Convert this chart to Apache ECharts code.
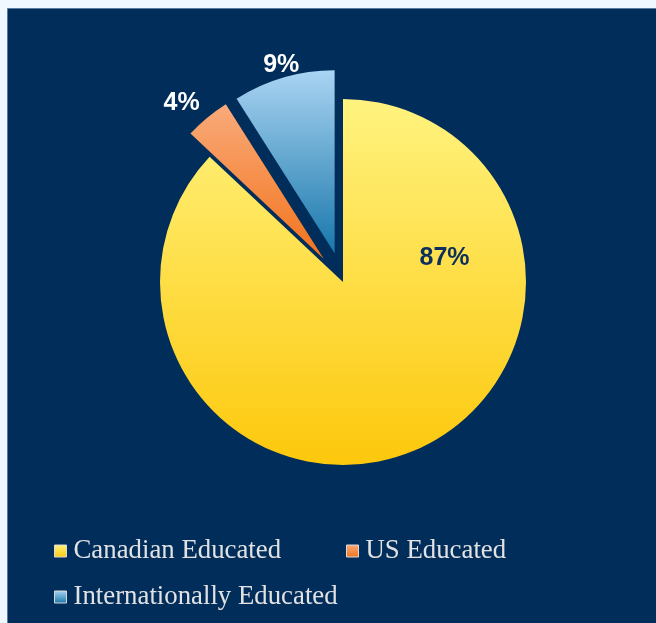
<!DOCTYPE html>
<html>
<head>
<meta charset="utf-8">
<script src="https://cdn.jsdelivr.net/npm/echarts@6/dist/echarts.min.js"></script>
<style>
html,body{margin:0;padding:0;background:#eff8fe;}
#chart{width:656px;height:623px;}
</style>
</head>
<body>
<div id="chart"></div>
<script>
// ---- data ----
const categories = ['Canadian Educated', 'US Educated', 'Internationally Educated'];
const shares = [87, 4, 9];
const exploded = [false, true, true];

// ---- styles ----
const gradientStops = [
  ['#fff37f', '#fdc80c'],
  ['#f9aa7a', '#f3731b'],
  ['#aad4f3', '#1877aa']
];
const labelColors = ['#0d2f5c', '#ffffff', '#ffffff'];
const labelShift = [[64, -111], [-82, -83], [-27, -97]];
const NAVY = '#012d5b';

function grad(c) {
  return new echarts.graphic.LinearGradient(0, 0, 0, 1, [
    { offset: 0, color: c[0] },
    { offset: 1, color: c[1] }
  ]);
}

const pieData = categories.map((name, i) => ({
  name: name,
  value: shares[i],
  selected: exploded[i],
  itemStyle: { color: grad(gradientStops[i]) },
  label: { color: labelColors[i] }
}));

const chart = echarts.init(document.getElementById('chart'), null, { renderer: 'canvas' });

const legendBase = {
  orient: 'horizontal',
  itemWidth: 12,
  itemHeight: 12,
  icon: 'rect',
  padding: 0,
  itemStyle: { borderColor: '#d9d9d9', borderWidth: 1 },
  textStyle: {
    color: '#e2e2e2',
    fontFamily: 'Liberation Serif',
    fontSize: 26.8,
    lineHeight: 30,
    padding: [0, 0, 0, 2]
  },
  selectedMode: false
};

chart.setOption({
  animation: false,
  backgroundColor: '#eff8fe',
  graphic: [{
    type: 'rect',
    left: 7, top: 8,
    shape: { width: 649, height: 615 },
    style: { fill: NAVY, stroke: '#5b7b9e', lineWidth: 1 },
    z: -10
  }],
  legend: [
    Object.assign({}, legendBase, { left: 54, top: 536, data: [categories[0]] }),
    Object.assign({}, legendBase, { left: 346, top: 536, data: [categories[1]] }),
    Object.assign({}, legendBase, { left: 54, top: 582, data: [categories[2]] })
  ],
  series: [{
    type: 'pie',
    center: [343, 282],
    radius: [0, 183],
    startAngle: 90,
    clockwise: true,
    selectedMode: 'multiple',
    selectedOffset: 30,
    emphasis: { disabled: true },
    avoidLabelOverlap: false,
    label: {
      show: true,
      position: 'inside',
      formatter: '{c}%',
      fontFamily: 'Liberation Sans',
      fontWeight: 'bold',
      fontSize: 25
    },
    labelLine: { show: false },
    labelLayout: function (params) {
      const s = labelShift[params.dataIndex];
      return { dx: s[0], dy: s[1] };
    },
    itemStyle: { borderWidth: 0 },
    data: pieData
  }]
});
</script>
</body>
</html>
